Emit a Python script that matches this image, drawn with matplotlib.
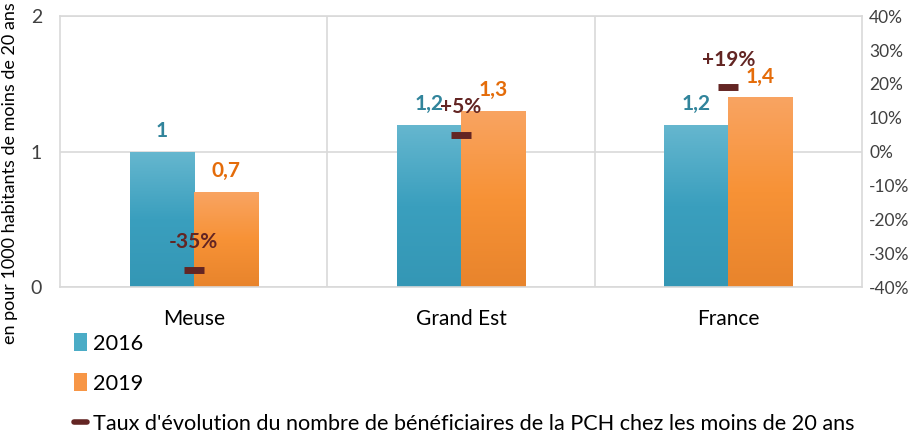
import matplotlib
matplotlib.use("Agg")
import matplotlib.pyplot as plt
import numpy as np
from matplotlib.lines import Line2D
from matplotlib.patches import Patch
from matplotlib.colors import LinearSegmentedColormap

categories = ["Meuse", "Grand Est", "France"]
values_2016 = [1.0, 1.2, 1.2]
values_2019 = [0.7, 1.3, 1.4]
growth = [-0.35, 0.05, 0.19]
growth_labels = ["-35%", "+5%", "+19%"]
series_names = ["2016", "2019"]
growth_name = "Taux d'évolution du nombre de bénéficiaires de la PCH chez les moins de 20 ans"
ylabel = "en pour 1000 habitants de moins de 20 ans"
pct_ticks = [-40, -30, -20, -10, 0, 10, 20, 30, 40]

plt.rcParams['font.family'] = ['Lato', 'DejaVu Sans']
plt.rcParams['axes.unicode_minus'] = False

fig = plt.figure(figsize=(9.23, 4.37), dpi=100)
ax = fig.add_axes([0.065, 0.343, 0.869, 0.620])
ax2 = ax.twinx()

x = np.arange(len(categories))
w = 0.24
teal = "#4bacc6"
orange = "#f79646"
teal_txt = "#31849b"
orange_txt = "#e46c0a"
dark = "#632523"
grid_c = "#d9d9d9"

cmap_teal = LinearSegmentedColormap.from_list("t", ["#66b7cf", "#3a9fbe", "#3497b5"])
cmap_or = LinearSegmentedColormap.from_list("o", ["#f9a462", "#f79236", "#e8842c"])

b1 = ax.bar(x - w/2, values_2016, w, color=teal, zorder=2)
b2 = ax.bar(x + w/2, values_2019, w, color=orange, zorder=2)
grad = np.linspace(0, 1, 256).reshape(-1, 1)
for bars, cm in ((b1, cmap_teal), (b2, cmap_or)):
    for r in bars:
        x0, y0 = r.get_x(), r.get_y()
        im = ax.imshow(grad, cmap=cm, aspect='auto', origin='upper',
                       extent=[x0, x0 + r.get_width(), y0, y0 + r.get_height()], zorder=2.1)
        im.set_clip_path(r)

ax.set_xlim(-0.5, 2.5)
ax.set_ylim(0, 2)
ax.set_yticks([0, 1, 2])
ax.set_yticklabels(["0", "1", "2"])
ax.set_xticks(x)
ax.set_xticklabels(categories)
ax.set_xticks([0.5, 1.5], minor=True)
ax.tick_params(axis='both', which='both', length=0)
ax.tick_params(axis='y', labelsize=14, pad=13, colors="#404040")
ax.tick_params(axis='x', labelsize=15, pad=16, colors="#000000")
ax.grid(axis='y', which='major', color=grid_c, lw=1.2, zorder=0)
ax.grid(axis='x', which='minor', color=grid_c, lw=1.2, zorder=0)
ax.set_axisbelow(True)
for s in ax.spines.values():
    s.set_color(grid_c)
    s.set_linewidth(1.2)
ax.set_ylabel(ylabel, fontsize=13, color="#000000")
ax.yaxis.set_label_coords(-0.052, 0.42)

for i, v in enumerate(values_2016):
    ax.annotate(f"{v:g}".replace(".", ","), (x[i] - w/2, v), xytext=(0, 15),
                textcoords='offset points', ha='center', va='center',
                fontsize=15, fontweight='bold', color=teal_txt, zorder=5)
for i, v in enumerate(values_2019):
    ax.annotate(f"{v:g}".replace(".", ","), (x[i] + w/2, v), xytext=(0, 15),
                textcoords='offset points', ha='center', va='center',
                fontsize=15, fontweight='bold', color=orange_txt, zorder=5)

ax2.set_ylim(-0.4, 0.4)
ax2.set_yticks([t / 100 for t in pct_ticks])
ax2.set_yticklabels([f"{t}%" for t in pct_ticks])
ax2.tick_params(axis='y', length=0, labelsize=12.5, pad=5, colors="#404040")
for s in ax2.spines.values():
    s.set_visible(False)
ax2.plot(x, growth, linestyle='none', marker='_', markersize=14, mew=5, color=dark, zorder=6)
for i, g in enumerate(growth):
    ax2.annotate(growth_labels[i], (x[i], g), xytext=(0, 20),
                 textcoords='offset points', ha='center', va='center',
                 fontsize=15, fontweight='bold', color=dark, zorder=7)

handles = [Patch(facecolor=teal, edgecolor='none'),
           Patch(facecolor=orange, edgecolor='none'),
           Line2D([], [], color=dark, lw=4, solid_capstyle='round')]
leg = fig.legend(handles, series_names + [growth_name], loc='upper left',
                 bbox_to_anchor=(0.08, 0.237), frameon=False, fontsize=15.6,
                 handlelength=0.6, handleheight=0.9, handletextpad=0.3,
                 labelspacing=0.9, borderaxespad=0, borderpad=0)

fig.savefig("out.png", dpi=100)
